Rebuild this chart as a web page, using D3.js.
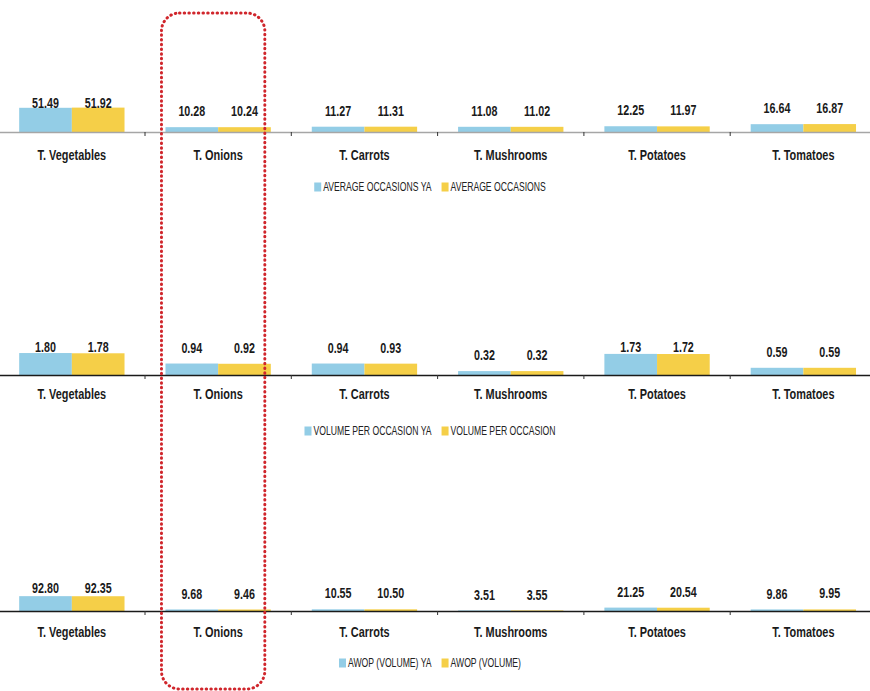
<!DOCTYPE html>
<html>
<head>
<meta charset="utf-8">
<script src="https://cdn.jsdelivr.net/npm/d3@7"></script>
<style>
  html, body { margin: 0; padding: 0; background: #ffffff; }
  svg { display: block; }
  .val { font-family: "Liberation Sans", Arial, sans-serif; font-weight: bold; font-size: 14.5px; fill: #1a1a1a; }
  .cat { font-family: "Liberation Sans", Arial, sans-serif; font-weight: bold; font-size: 14px; fill: #1a1a1a; }
  .leg { font-family: "Liberation Sans", Arial, sans-serif; font-size: 12px; fill: #222; }
</style>
</head>
<body>
<svg id="chart" width="870" height="691"></svg>
<script>
// ---- data ----
const categories = ["T. Vegetables", "T. Onions", "T. Carrots", "T. Mushrooms", "T. Potatoes", "T. Tomatoes"];

const avgOccasionsYA = [51.49, 10.28, 11.27, 11.08, 12.25, 16.64];
const avgOccasions   = [51.92, 10.24, 11.31, 11.02, 11.97, 16.87];

const volPerOccYA = [1.80, 0.94, 0.94, 0.32, 1.73, 0.59];
const volPerOcc   = [1.78, 0.92, 0.93, 0.32, 1.72, 0.59];

const awopYA = [92.80, 9.68, 10.55, 3.51, 21.25, 9.86];
const awop   = [92.35, 9.46, 10.50, 3.55, 20.54, 9.95];

const legend1 = ["AVERAGE OCCASIONS YA", "AVERAGE OCCASIONS"];
const legend2 = ["VOLUME PER OCCASION YA", "VOLUME PER OCCASION"];
const legend3 = ["AWOP (VOLUME) YA", "AWOP (VOLUME)"];

const valueFormat = d3.format(".2f");

// ---- styling / layout ----
const W = 870, H = 691;
const colorYA = "#93cde6";
const colorCur = "#f5cf48";
const svg = d3.select("#chart");

// condensed look: horizontal squeeze of the text
const SQ_VAL = 0.74, SQ_CAT = 0.78, SQ_LEG = 0.72;

const x0 = d3.scaleBand().domain(categories).range([-1.3, 876.5]).paddingInner(0.28).paddingOuter(0.14);
const x1 = d3.scaleBand().domain([0, 1]).range([0, x0.bandwidth()]);

const panels = [
  { ya: avgOccasionsYA, cur: avgOccasions, legend: legend1, axisY: 132, domainMax: 100, px: 47,   labelTop: 103, axisColor: "#a6a6a6", catY: 155, legY: 187 },
  { ya: volPerOccYA,    cur: volPerOcc,    legend: legend2, axisY: 375, domainMax: 2,   px: 24.4, labelTop: 347, axisColor: "#1a1a1a", catY: 394, legY: 431 },
  { ya: awopYA,         cur: awop,         legend: legend3, axisY: 611, domainMax: 100, px: 16,   labelTop: 588, axisColor: "#1a1a1a", catY: 632, legY: 663 }
];

panels.forEach(p => {
  const y = d3.scaleLinear().domain([0, p.domainMax]).range([p.axisY, p.axisY - p.px]);
  const g = svg.append("g");

  // bars
  const rows = categories.map((c, i) => ({ cat: c, vals: [p.ya[i], p.cur[i]] }));
  const grp = g.selectAll("g.grp").data(rows).join("g")
    .attr("class", "grp")
    .attr("transform", d => `translate(${x0(d.cat)},0)`);

  grp.selectAll("rect").data(d => d.vals.map((v, k) => ({ v, k }))).join("rect")
    .attr("x", d => x1(d.k))
    .attr("width", x1.bandwidth())
    .attr("y", d => y(d.v))
    .attr("height", d => p.axisY - y(d.v))
    .attr("fill", d => d.k === 0 ? colorYA : colorCur);

  // axis line and ticks at band boundaries
  g.append("line")
    .attr("x1", 0).attr("x2", W)
    .attr("y1", p.axisY + 0.5).attr("y2", p.axisY + 0.5)
    .attr("stroke", p.axisColor).attr("stroke-width", 1.5);
  const step = x0.step();
  const bounds = categories.slice(1).map(c => x0(c) - step * x0.paddingInner() / 2);
  g.selectAll("line.tick").data(bounds).join("line")
    .attr("class", "tick")
    .attr("x1", d => d).attr("x2", d => d)
    .attr("y1", p.axisY).attr("y2", p.axisY + 4)
    .attr("stroke", "#333").attr("stroke-width", 1);

  // value labels
  grp.selectAll("text.val").data(d => d.vals.map((v, k) => ({ v, k }))).join("text")
    .attr("class", "val")
    .attr("transform", d => `translate(${x1(d.k) + x1.bandwidth() / 2},${Math.max(y(d.v) - 16, p.labelTop)}) scale(${SQ_VAL},1)`)
    .attr("dy", "0.35em")
    .attr("text-anchor", "middle")
    .text(d => valueFormat(d.v));

  // category labels
  g.selectAll("text.cat").data(categories).join("text")
    .attr("class", "cat")
    .attr("transform", d => `translate(${x0(d) + x0.bandwidth() / 2},${p.catY}) scale(${SQ_CAT},1)`)
    .attr("dy", "0.35em")
    .attr("text-anchor", "middle")
    .text(d => d);

  // legend centred
  const lg = g.append("g");
  const items = p.legend.map((t, k) => {
    const it = lg.append("g");
    it.append("rect").attr("x", 0).attr("y", -4.5).attr("width", 7).attr("height", 9)
      .attr("fill", k === 0 ? colorYA : colorCur);
    const tx = it.append("text").attr("class", "leg")
      .attr("transform", `translate(9,0) scale(${SQ_LEG},1)`)
      .attr("dy", "0.35em").text(t);
    return { it, w: 9 + tx.node().getComputedTextLength() * SQ_LEG };
  });
  const gap = 10;
  const total = items.reduce((s, d) => s + d.w, 0) + gap * (items.length - 1);
  let cx = 430 - total / 2;
  items.forEach(d => { d.it.attr("transform", `translate(${cx},${p.legY})`); cx += d.w + gap; });
});

// red dotted highlight box around T. Onions
const hb = x0("T. Onions");
svg.append("rect")
  .attr("x", hb - 4).attr("y", 13)
  .attr("width", x0.bandwidth() - 2).attr("height", 676)
  .attr("rx", 18).attr("ry", 18)
  .attr("fill", "none")
  .attr("stroke", "#d0262c")
  .attr("stroke-width", 3)
  .attr("stroke-linecap", "round")
  .attr("stroke-dasharray", "0.5 4.2");
</script>
</body>
</html>
